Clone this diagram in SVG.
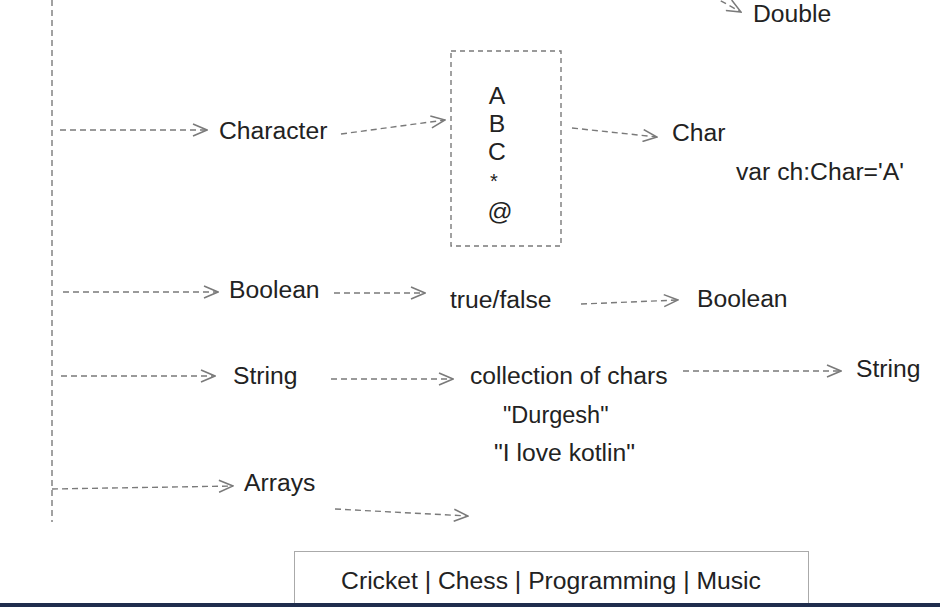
<svg xmlns="http://www.w3.org/2000/svg" width="940" height="607" viewBox="0 0 940 607">
<defs>
<style>
.t{font-family:"Liberation Sans",Arial,sans-serif;font-size:24.7px;fill:#222}
.c{fill:none;stroke:#7a7a7a;stroke-width:1.4;stroke-dasharray:6 4}
.b{fill:none;stroke:#7a7a7a;stroke-width:1.4;stroke-dasharray:5 4}
</style>
<marker id="ah" viewBox="0 0 16 14" refX="15" refY="7" markerWidth="16" markerHeight="14" markerUnits="userSpaceOnUse" orient="auto">
<path d="M1,1 L15,7 L1,13" fill="none" stroke="#7a7a7a" stroke-width="1.5" stroke-dasharray="none"/>
</marker>
</defs>
<rect width="940" height="607" fill="#fff"/>
<g id="connectors">
<line class="c" x1="52" y1="0" x2="52" y2="522"/>
<line class="c" x1="712" y1="-4" x2="741" y2="12" marker-end="url(#ah)"/>
<line class="c" x1="60" y1="130" x2="207" y2="130" marker-end="url(#ah)"/>
<line class="c" x1="341" y1="134" x2="445" y2="120" marker-end="url(#ah)"/>
<line class="c" x1="572" y1="128" x2="657" y2="137" marker-end="url(#ah)"/>
<line class="c" x1="63" y1="292" x2="218" y2="292" marker-end="url(#ah)"/>
<line class="c" x1="334" y1="293" x2="425" y2="293" marker-end="url(#ah)"/>
<line class="c" x1="581" y1="304" x2="678" y2="300" marker-end="url(#ah)"/>
<line class="c" x1="61" y1="376" x2="215" y2="376" marker-end="url(#ah)"/>
<line class="c" x1="331" y1="379" x2="453" y2="379" marker-end="url(#ah)"/>
<line class="c" x1="683" y1="371" x2="841" y2="371" marker-end="url(#ah)"/>
<line class="c" x1="52" y1="489" x2="233" y2="486" marker-end="url(#ah)"/>
<line class="c" x1="335" y1="509" x2="468" y2="516" marker-end="url(#ah)"/>
</g>
<g id="double"><text class="t" x="753" y="22">Double</text></g>
<g id="character"><text class="t" x="219" y="139">Character</text></g>
<g id="chars-box">
<rect class="b" x="451" y="51" width="110" height="195"/>
<text class="t" x="497" y="104" text-anchor="middle">A</text>
<text class="t" x="497" y="132" text-anchor="middle">B</text>
<text class="t" x="497" y="160" text-anchor="middle">C</text>
<text class="t" x="494" y="188" text-anchor="middle" style="font-size:20px">*</text>
<text class="t" x="500" y="220" text-anchor="middle">@</text>
</g>
<g id="char"><text class="t" x="672" y="141">Char</text></g>
<g id="char-example"><text class="t" x="736" y="180">var ch:Char='A'</text></g>
<g id="boolean"><text class="t" x="229" y="298">Boolean</text></g>
<g id="true-false"><text class="t" x="450" y="308">true/false</text></g>
<g id="boolean-type"><text class="t" x="697" y="307">Boolean</text></g>
<g id="string"><text class="t" x="233" y="384">String</text></g>
<g id="collection"><text class="t" x="470" y="384">collection of chars</text>
<text class="t" x="503" y="423" style="font-size:23.5px">"Durgesh"</text>
<text class="t" x="494" y="461">"I love kotlin"</text>
</g>
<g id="string-type"><text class="t" x="856" y="377">String</text></g>
<g id="arrays"><text class="t" x="244" y="491">Arrays</text></g>
<g id="hobbies">
<rect x="294.5" y="551.5" width="514" height="60" fill="#fff" stroke="#aaa" stroke-width="1"/>
<text class="t" x="551" y="589" text-anchor="middle">Cricket | Chess | Programming | Music</text>
</g>
<rect x="0" y="603" width="940" height="4" fill="#1f2d4d"/>
</svg>
